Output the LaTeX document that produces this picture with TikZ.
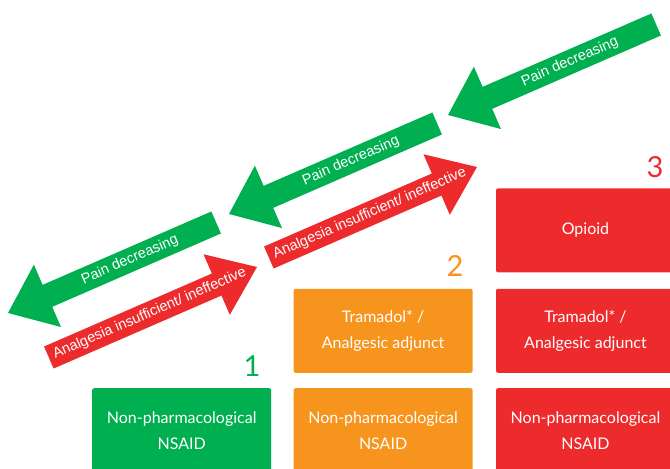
\documentclass[tikz,border=0pt]{standalone}
\usepackage{fontspec}
\setmainfont{Lato}
\newfontfamily\arrowfont{Liberation Sans}
\usetikzlibrary{positioning}

\definecolor{stepgreen}{HTML}{00AF50}
\definecolor{steporange}{HTML}{F7941E}
\definecolor{stepred}{HTML}{EE2B2C}

\tikzset{
  drugbox/.style={fill=#1, text=white, rounded corners=2pt, minimum width=179pt,
    minimum height=84pt, inner sep=0pt, align=center, font=\fontsize{16}{26}\selectfont},
  stepnum/.style={text=#1, anchor=base, inner sep=0pt, font=\fontsize{29}{29}\selectfont},
  arrowtext/.style={text=white, transform shape, inner sep=0pt,
    font=\arrowfont\fontsize{14.5}{14.5}\selectfont},
}

\begin{document}
\begin{tikzpicture}[x=1pt,y=-1pt]
  \useasboundingbox (0,0) rectangle (670,469);
  \clip (0,0) rectangle (670,469);

  % step boxes
  \node[drugbox=stepgreen, anchor=north west] (nonpharm1) at (92,388) {Non-pharmacological\\NSAID};
  \node[drugbox=steporange, right=22pt of nonpharm1] (nonpharm2) {Non-pharmacological\\NSAID};
  \node[drugbox=stepred, right=23pt of nonpharm2] (nonpharm3) {Non-pharmacological\\NSAID};
  \node[drugbox=steporange, above=15pt of nonpharm2] (tramadol2) {Tramadol* /\\Analgesic adjunct};
  \node[drugbox=stepred, above=15pt of nonpharm3] (tramadol3) {Tramadol* /\\Analgesic adjunct};
  \node[drugbox=stepred, above=16pt of tramadol3] (opioid) {Opioid};

  % step numbers
  \node[stepnum=stepgreen] (num1) at (252,376) {1};
  \node[stepnum=steporange] (num2) at (455,276) {2};
  \node[stepnum=stepred] (num3) at (655,177) {3};

  % pain decreasing arrows
  \foreach \tx/\ty [count=\i] in {8/313, 229/214, 448/115} {
    \begin{scope}[shift={(\tx,\ty)}, rotate=23.5]
      \fill[stepgreen] (0pt,0pt) -- (43pt,34pt) -- (43pt,12pt) -- (227pt,12pt)
        -- (227pt,-12pt) -- (43pt,-12pt) -- (43pt,-34pt) -- cycle;
      \node[arrowtext] (pain\i) at (133pt,0pt) {Pain decreasing};
    \end{scope}
  }

  % analgesia insufficient arrows
  \foreach \tx/\ty [count=\i] in {257/267, 477/167} {
    \begin{scope}[shift={(\tx,\ty)}, rotate=23.5]
      \fill[stepred] (0pt,0pt) -- (-44pt,33pt) -- (-44pt,12pt) -- (-227pt,12pt)
        -- (-227pt,-12pt) -- (-44pt,-12pt) -- (-44pt,-33pt) -- cycle;
      \node[arrowtext] (fail\i) at (-117pt,0pt) {Analgesia insufficient/ ineffective};
    \end{scope}
  }
\end{tikzpicture}
\end{document}
